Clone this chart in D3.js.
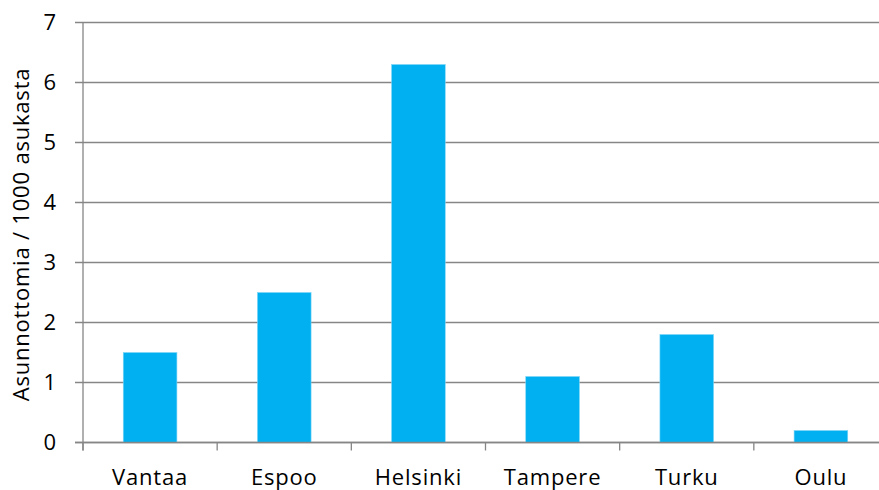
<!DOCTYPE html>
<html><head><meta charset="utf-8">
<script src="https://cdn.jsdelivr.net/npm/d3@7"></script>
<style>body{margin:0;background:#fff}svg{display:block}text{font-family:"Open Sans",sans-serif;fill:#000}</style>
</head><body><svg id="c" width="879" height="490"></svg>
<script>
const categories=["Vantaa","Espoo","Helsinki","Tampere","Turku","Oulu"];
const values=[1.5,2.5,6.3,1.1,1.8,0.2];
const yTicks=[0,1,2,3,4,5,6,7];
const yTitle="Asunnottomia / 1000 asukasta";

const svg=d3.select("#c");
const mLeft=83,mRight=888,mTop=22.5,mBottom=442.5;
const x=d3.scaleBand().domain(categories).range([mLeft,mRight]).paddingInner(0.6).paddingOuter(0.3);
const y=d3.scaleLinear().domain([0,7]).range([mBottom,mTop]);
const grid="#868686";

svg.append("g").selectAll("line").data(yTicks).join("line")
 .attr("x1",75).attr("x2",mRight).attr("y1",d=>y(d)).attr("y2",d=>y(d))
 .attr("stroke",grid).attr("stroke-width",1.3);
svg.append("line").attr("x1",mLeft).attr("x2",mLeft).attr("y1",mTop).attr("y2",mBottom+8)
 .attr("stroke",grid).attr("stroke-width",1.3);
const step=x.step();
svg.append("g").selectAll("line").data(d3.range(categories.length+1)).join("line")
 .attr("x1",i=>mLeft+i*step).attr("x2",i=>mLeft+i*step).attr("y1",mBottom).attr("y2",mBottom+8)
 .attr("stroke",grid).attr("stroke-width",1.3);
svg.append("g").selectAll("rect").data(values).join("rect")
 .attr("x",(d,i)=>x(categories[i])).attr("width",x.bandwidth())
 .attr("y",d=>y(d)).attr("height",d=>y(0)-y(d))
 .attr("fill","#00B0F0").attr("stroke","#7fd6f6").attr("stroke-width",0.6);
svg.append("line").attr("x1",75).attr("x2",mRight).attr("y1",mBottom).attr("y2",mBottom).attr("stroke",grid).attr("stroke-width",1.3);
svg.append("g").selectAll("text").data(yTicks).join("text")
 .attr("x",56).attr("y",d=>y(d)).attr("dy","0.35em").attr("text-anchor","end")
 .style("font-size","22px").text(d=>d);
svg.append("g").selectAll("text").data(categories).join("text")
 .attr("x",d=>x(d)+x.bandwidth()/2).attr("y",485).attr("text-anchor","middle")
 .style("font-size","22px").style("letter-spacing","0.8px").text(d=>d);
svg.append("text").attr("transform","translate(29,234.5) rotate(-90)").attr("text-anchor","middle")
 .style("font-size","22px").style("letter-spacing","0.8px").text(yTitle);
</script></body></html>
